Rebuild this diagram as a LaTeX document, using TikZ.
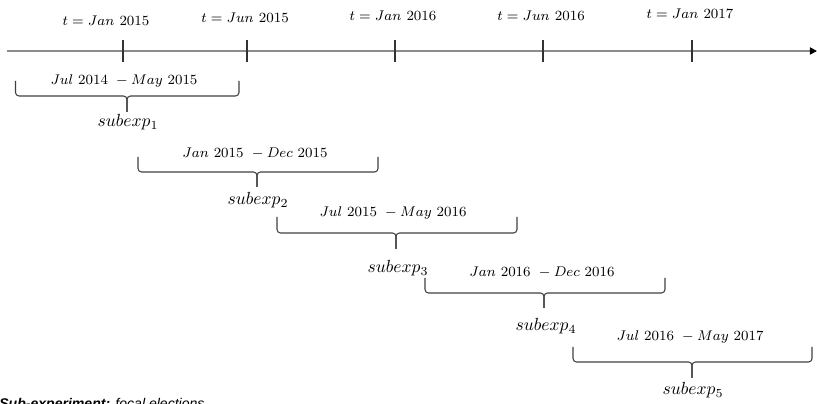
\documentclass[tikz,border=0pt]{standalone}
\usepackage{fontspec}
\setsansfont{Liberation Sans}
\usetikzlibrary{arrows.meta}

\begin{document}
\begin{tikzpicture}[x=0.02cm, y=-0.02cm,
  timeaxis/.style={draw=black!45, line width=0.9pt, -{Triangle[length=4pt,width=4pt,color=black]}},
  tickmark/.style={draw=black!80, line width=0.6pt},
  ticklabel/.style={inner sep=0pt, font=\fontsize{8.5}{10}\selectfont},
  spanbrace/.style={draw=black!75, line width=0.6pt, rounded corners=2pt},
  spanlabel/.style={inner sep=0pt, font=\fontsize{7.8}{9}\selectfont},
  sublabel/.style={inner sep=0pt, font=\fontsize{10}{12}\selectfont}]
\useasboundingbox (0,0) rectangle (817,404);

\coordinate (axstart) at (7,51);
\coordinate (axend) at (817,51);
\draw[timeaxis] (axstart) -- (axend);

\draw[tickmark] (123,40) -- (123,62);
\draw[tickmark] (247,40) -- (247,62);
\draw[tickmark] (395,40) -- (395,62);
\draw[tickmark] (543,40) -- (543,62);
\draw[tickmark] (692,40) -- (692,62);

\node[ticklabel] (t1) at (106,21) {$t = Jan\ 2015$};
\node[ticklabel] (t2) at (245,18) {$t = Jun\ 2015$};
\node[ticklabel] (t3) at (393,16) {$t = Jan\ 2016$};
\node[ticklabel] (t4) at (541,16) {$t = Jun\ 2016$};
\node[ticklabel] (t5) at (690,14) {$t = Jan\ 2017$};

% sub-experiment windows
\draw[spanbrace] (15.5,81) -- (15.5,96) -- (127,96) -- (127,112);
\draw[spanbrace] (239,81) -- (239,96) -- (127,96) -- (127,112);
\node[spanlabel] (w1) at (124,81) {$Jul\ 2014\ - May\ 2015$};
\node[sublabel] (s1) at (128,122) {$subexp_{1}$};

\draw[spanbrace] (138,157) -- (138,172) -- (257,172) -- (257,187);
\draw[spanbrace] (378,157) -- (378,172) -- (257,172) -- (257,187);
\node[spanlabel] (w2) at (255,153) {$Jan\ 2015\ - Dec\ 2015$};
\node[sublabel] (s2) at (258,200) {$subexp_{2}$};

\draw[spanbrace] (277,217) -- (277,233) -- (396,233) -- (396,249);
\draw[spanbrace] (517,217) -- (517,233) -- (396,233) -- (396,249);
\node[spanlabel] (w3) at (393,213) {$Jul\ 2015\ - May\ 2016$};
\node[sublabel] (s3) at (398,268) {$subexp_{3}$};

\draw[spanbrace] (425,278) -- (425,293) -- (544,293) -- (544,308);
\draw[spanbrace] (665,278) -- (665,293) -- (544,293) -- (544,308);
\node[spanlabel] (w4) at (542,272) {$Jan\ 2016\ - Dec\ 2016$};
\node[sublabel] (s4) at (546,326) {$subexp_{4}$};

\draw[spanbrace] (573,347) -- (573,362) -- (692,362) -- (692,378);
\draw[spanbrace] (812,347) -- (812,362) -- (692,362) -- (692,378);
\node[spanlabel] (w5) at (690,337) {$Jul\ 2016\ - May\ 2017$};
\node[sublabel] (s5) at (693,390) {$subexp_{5}$};

\node[inner sep=0pt, anchor=base west, font=\sffamily\fontsize{8}{10}\selectfont] (note) at (-1,409)
  {{\bfseries\itshape Sub-experiment:} {\itshape focal elections}};
\end{tikzpicture}
\end{document}
